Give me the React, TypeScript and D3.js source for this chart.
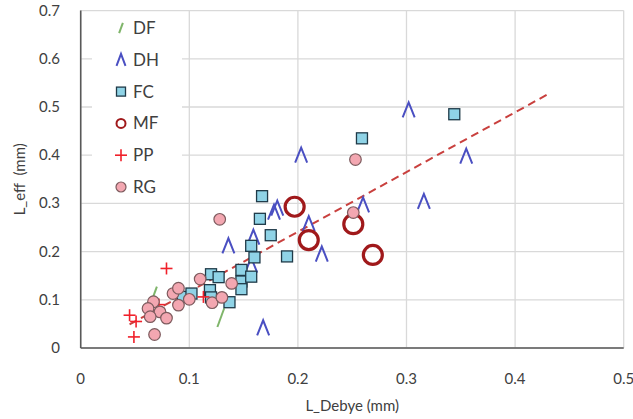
import React from "react";
import * as d3 from "d3";

const xTicks = [0, 0.1, 0.2, 0.3, 0.4, 0.5];
const yTicks = [0, 0.1, 0.2, 0.3, 0.4, 0.5, 0.6, 0.7];

const dfX = [0.067, 0.129];
const dfY = [0.108, 0.063];

const dhX = [0.136, 0.159, 0.157, 0.168, 0.178, 0.181, 0.203, 0.21, 0.222, 0.26, 0.302, 0.316, 0.355];
const dhY = [0.212, 0.23, 0.172, 0.042, 0.282, 0.29, 0.4, 0.258, 0.195, 0.297, 0.494, 0.304, 0.398];

const fcX = [0.094, 0.102, 0.12, 0.127, 0.119, 0.12, 0.137, 0.148, 0.148, 0.148, 0.157, 0.157, 0.16, 0.165, 0.167, 0.175, 0.19, 0.259, 0.344];
const fcY = [0.106, 0.113, 0.153, 0.147, 0.12, 0.105, 0.095, 0.162, 0.138, 0.122, 0.148, 0.212, 0.188, 0.268, 0.315, 0.234, 0.19, 0.435, 0.485];

const mfX = [0.197, 0.21, 0.251, 0.269];
const mfY = [0.293, 0.224, 0.257, 0.193];

const ppX = [0.045, 0.051, 0.049, 0.079, 0.113, 0.072];
const ppY = [0.068, 0.055, 0.023, 0.165, 0.106, 0.09];

const rgX = [0.067, 0.062, 0.073, 0.064, 0.079, 0.068, 0.085, 0.09, 0.09, 0.1, 0.11, 0.121, 0.13, 0.139, 0.128, 0.253, 0.251];
const rgY = [0.096, 0.082, 0.075, 0.065, 0.062, 0.028, 0.113, 0.124, 0.089, 0.101, 0.143, 0.094, 0.105, 0.134, 0.267, 0.391, 0.281];

const trendX = [0.045, 0.432];
const trendSlope = 1.24;
const trendIntercept = -0.007;

const legendLabels = ["DF", "DH", "FC", "MF", "PP", "RG"];

const W = 633;
const H = 419;
const FONT = "Lato, 'Open Sans', sans-serif";

const C = {
  df: "#7fb56a",
  dh: "#4a4fc2",
  fcFill: "#8fd3e6",
  fcStroke: "#1f3a48",
  mf: "#a0191b",
  pp: "#f0202a",
  rgFill: "#f3a7b1",
  rgStroke: "#7d5b5e",
  trend: "#c9403e",
  grid: "#d9d9d9",
  axis: "#595959",
};

function Marker({ type, x, y, legend }: { type: string; x: number; y: number; legend?: boolean }) {
  switch (type) {
    case "DF": {
      const L = legend ? 5.5 : 10;
      const ang = (70 * Math.PI) / 180;
      const dx = L * Math.cos(ang);
      const dy = L * Math.sin(ang);
      return <line x1={x - dx} y1={y + dy} x2={x + dx} y2={y - dy} stroke={C.df} strokeWidth={2} />;
    }
    case "DH": {
      const w = legend ? 4.5 : 6, h = legend ? 6 : 7.5;
      return (
        <path
          d={`M${x - w},${y + h} L${x},${y - h} L${x + w},${y + h}`}
          fill="none"
          stroke={C.dh}
          strokeWidth={2}
        />
      );
    }
    case "FC": {
      const s = legend ? 4.5 : 5.5;
      return <rect x={x - s} y={y - s} width={2 * s} height={2 * s} fill={C.fcFill} stroke={C.fcStroke} strokeWidth={1.3} />;
    }
    case "MF": {
      const r = legend ? 4.5 : 9.5;
      return <circle cx={x} cy={y} r={r} fill="none" stroke={C.mf} strokeWidth={legend ? 2 : 3.2} />;
    }
    case "PP": {
      const s = 6;
      return (
        <g stroke={C.pp} strokeWidth={1.6}>
          <line x1={x - s} y1={y} x2={x + s} y2={y} />
          <line x1={x} y1={y - s} x2={x} y2={y + s} />
        </g>
      );
    }
    case "RG": {
      const r = legend ? 5 : 5.8;
      return <circle cx={x} cy={y} r={r} fill={C.rgFill} stroke={C.rgStroke} strokeWidth={1.2} />;
    }
  }
  return null;
}

export default function App() {
  const left = 80.7, right = 623.7, top = 10.6, bottom = 348;
  const x = d3.scaleLinear().domain([0, 0.5]).range([left, right]);
  const y = d3.scaleLinear().domain([0, 0.7]).range([bottom, top]);

  const series: { type: string; xs: number[]; ys: number[] }[] = [
    { type: "DF", xs: dfX, ys: dfY },
    { type: "DH", xs: dhX, ys: dhY },
    { type: "FC", xs: fcX, ys: fcY },
    { type: "MF", xs: mfX, ys: mfY },
    { type: "PP", xs: ppX, ys: ppY },
    { type: "RG", xs: rgX, ys: rgY },
  ];

  const trendLine = d3
    .line<number>()
    .x((d) => x(d))
    .y((d) => y(trendSlope * d + trendIntercept));

  const legendY0 = 28, legendStep = 31.8;

  return (
    <svg width={W} height={H} style={{ position: "absolute", left: 0, top: 0, background: "#fff" }}>
      {yTicks.map((t) => (
        <line key={"gy" + t} x1={left} x2={right} y1={y(t)} y2={y(t)} stroke={C.grid} strokeWidth={1.3} />
      ))}
      {xTicks.map((t) => (
        <line key={"gx" + t} x1={x(t)} x2={x(t)} y1={top} y2={bottom} stroke={C.grid} strokeWidth={1.3} />
      ))}

      <rect x={92} y={12} width={90} height={188} fill="#fff" />

      <path d={trendLine(trendX) || ""} fill="none" stroke={C.trend} strokeWidth={2} strokeDasharray="8,5" />

      {series.map((s) => (
        <g key={s.type}>
          {s.xs.map((v, i) => (
            <Marker key={i} type={s.type} x={x(v)} y={y(s.ys[i])} />
          ))}
        </g>
      ))}

      <line x1={left} x2={left} y1={top} y2={bottom} stroke={C.axis} strokeWidth={1.6} />
      <line x1={left} x2={right} y1={bottom} y2={bottom} stroke={C.axis} strokeWidth={1.6} />

      {yTicks.map((t) => (
        <text key={"ty" + t} x={60} y={y(t) + 5} textAnchor="end" fontFamily={FONT} fontSize={15} fill="#404040">
          {t}
        </text>
      ))}
      {xTicks.map((t) => (
        <text key={"tx" + t} x={x(t)} y={384} textAnchor="middle" fontFamily={FONT} fontSize={15} fill="#404040">
          {t}
        </text>
      ))}

      <text x={(left + right) / 2} y={411} textAnchor="middle" fontFamily={FONT} fontSize={15} fill="#404040">
        L_Debye (mm)
      </text>
      <text
        transform={`translate(25,${(top + bottom) / 2}) rotate(-90)`}
        textAnchor="middle"
        fontFamily={FONT}
        fontSize={15}
        fill="#404040"
        style={{ whiteSpace: "pre" }}
      >
        {"L_eff  (mm)"}
      </text>

      {legendLabels.map((lab, i) => (
        <g key={lab}>
          <Marker type={lab} x={121} y={legendY0 + i * legendStep} legend />
          <text x={133} y={legendY0 + i * legendStep + 6} fontFamily={FONT} fontSize={17} fill="#404040">
            {lab}
          </text>
        </g>
      ))}
    </svg>
  );
}
